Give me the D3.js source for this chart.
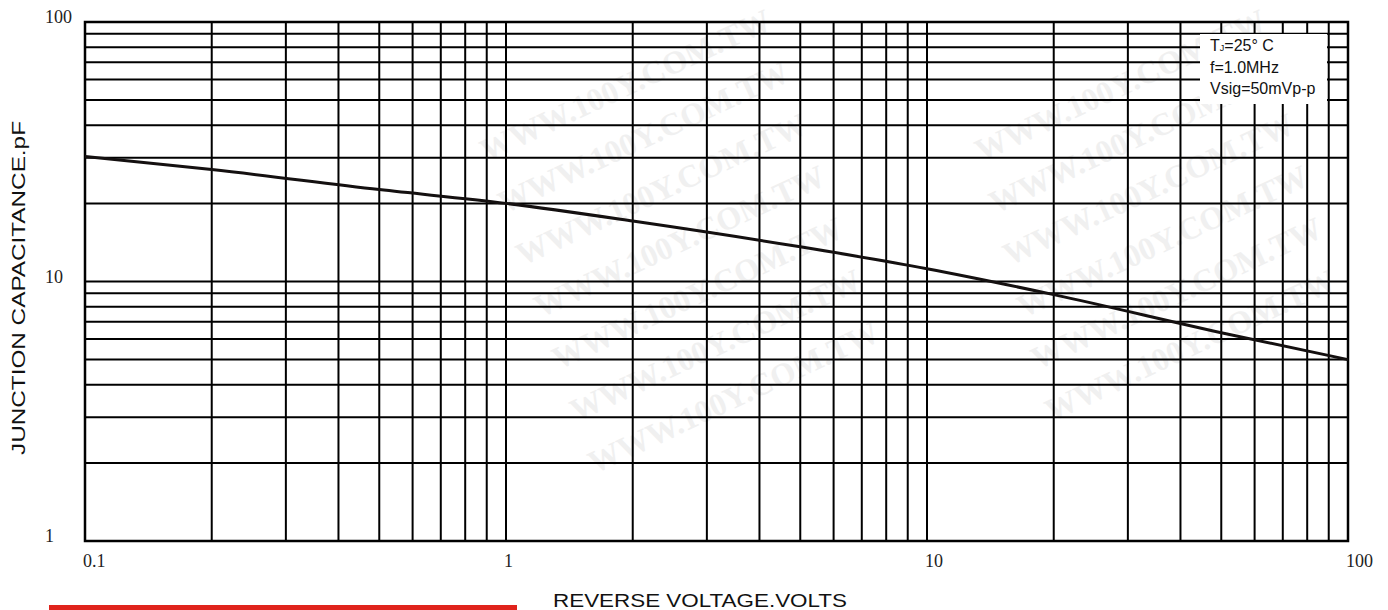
<!DOCTYPE html>
<html>
<head>
<meta charset="utf-8">
<script src="https://cdn.jsdelivr.net/npm/d3@7"></script>
<style>
  html, body { margin: 0; padding: 0; background: #fff; }
  svg { display: block; }
</style>
</head>
<body>
<svg id="chart" width="1388" height="610"></svg>
<script>
// ---- data ----
const voltage = [0.1, 0.2, 0.5, 1, 2, 5, 10, 20, 50, 100];
const capacitance = [30.3, 27, 22.6, 20, 17.1, 13.6, 11.2, 8.9, 6.35, 5];
const xTickValues = [0.1, 1, 10, 100];
const xTickLabels = ["0.1", "1", "10", "100"];
const yTickValues = [1, 10, 100];
const yTickLabels = ["1", "10", "100"];
const legendLines = ["T|J|=25° C", "f=1.0MHz", "Vsig=50mVp-p"];
const xTitle = "REVERSE VOLTAGE.VOLTS";
const yTitle = "JUNCTION CAPACITANCE.pF";
const watermark = "WWW.100Y.COM.TW";

// ---- layout ----
const svg = d3.select("#chart");
const pLeft = 85, pRight = 1348, pTop = 22, pBottom = 541;

const x = d3.scaleLog().domain([0.1, 100]).range([pLeft, pRight]);
const y = d3.scaleLog().domain([1, 100]).range([pBottom, pTop]);

// watermark (very faint)
const wm = svg.append("g").attr("fill", "#f0f0f0")
  .style("font-family", "'Liberation Serif', serif")
  .style("font-weight", "bold").style("font-size", "32px");
const wmPos = [];
for (let i = 0; i < 7; i++) wmPos.push([630 + i * 18, 95 + i * 52]);
for (let i = 0; i < 6; i++) wmPos.push([1125 + i * 14, 95 + i * 52]);
wm.selectAll("text").data(wmPos).join("text")
  .attr("text-anchor", "middle")
  .attr("transform", d => `translate(${d[0]},${d[1]}) rotate(-25)`)
  .text(watermark);

// grid
const grid = svg.append("g").attr("stroke", "#000").attr("stroke-width", 2).attr("fill", "none");
const xGrid = x.ticks();
const yGrid = y.ticks();
grid.selectAll("line.v").data(xGrid).join("line").attr("class", "v")
  .attr("x1", d => x(d)).attr("x2", d => x(d)).attr("y1", pTop).attr("y2", pBottom);
grid.selectAll("line.h").data(yGrid).join("line").attr("class", "h")
  .attr("y1", d => y(d)).attr("y2", d => y(d)).attr("x1", pLeft).attr("x2", pRight);

// frame
svg.append("rect").attr("x", pLeft).attr("y", pTop)
  .attr("width", pRight - pLeft).attr("height", pBottom - pTop)
  .attr("fill", "none").attr("stroke", "#000").attr("stroke-width", 2.5);

// curve
const pts = voltage.map((v, i) => [v, capacitance[i]]);
svg.append("path").datum(pts)
  .attr("fill", "none").attr("stroke", "#141010").attr("stroke-width", 3)
  .attr("d", d3.line().x(d => x(d[0])).y(d => y(d[1])).curve(d3.curveMonotoneX));

// legend box
svg.append("rect").attr("x", 1200).attr("y", 34).attr("width", 127).attr("height", 70).attr("fill", "#fff");
const lg = svg.append("g").style("font-family", "'Liberation Sans', Arial, sans-serif")
  .style("font-size", "16px").attr("fill", "#111");
legendLines.forEach((s, i) => {
  const t = lg.append("text").attr("x", 1210).attr("y", 51 + i * 21.5);
  const parts = s.split("|");
  if (parts.length === 3) {
    t.append("tspan").text(parts[0]);
    t.append("tspan").attr("font-size", "9px").text(parts[1]);
    t.append("tspan").text(parts[2]);
  } else t.text(s);
});

// tick labels
const tf = "'Liberation Serif', 'DejaVu Serif', serif";
svg.append("g").selectAll("text").data(yTickValues).join("text")
  .attr("x", 45).attr("y", d => y(d) + 1)
  .style("font-family", tf).style("font-size", "18px").attr("fill", "#222")
  .text((d, i) => yTickLabels[i]);
svg.append("g").selectAll("text").data(xTickValues).join("text")
  .attr("x", d => x(d) - 2).attr("y", 567)
  .style("font-family", tf).style("font-size", "18px").attr("fill", "#222")
  .text((d, i) => xTickLabels[i]);

// axis titles
svg.append("text").attr("x", 553).attr("y", 607)
  .style("font-family", "'Liberation Sans', Arial, sans-serif").style("font-size", "18px")
  .attr("fill", "#111").attr("textLength", 294).attr("lengthAdjust", "spacingAndGlyphs")
  .text(xTitle);
svg.append("text").attr("transform", "translate(25,288) rotate(-90)")
  .attr("text-anchor", "middle")
  .style("font-family", "'Liberation Sans', Arial, sans-serif").style("font-size", "18px")
  .attr("fill", "#111").attr("textLength", 334).attr("lengthAdjust", "spacingAndGlyphs")
  .text(yTitle);

// red bar
svg.append("rect").attr("x", 49).attr("y", 605).attr("width", 468).attr("height", 5).attr("fill", "#e0231c");
</script>
</body>
</html>
